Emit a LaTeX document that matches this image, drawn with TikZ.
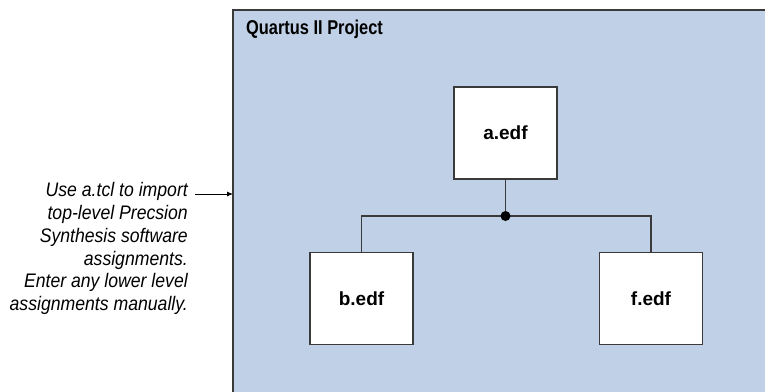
\documentclass[tikz,border=0pt]{standalone}
\usepackage{fontspec}
\usetikzlibrary{arrows.meta}
\setmainfont{Liberation Sans}
\newfontfamily\condfont[FakeStretch=0.9]{Liberation Sans}
\newfontfamily\titlefont[FakeStretch=0.82]{Liberation Sans}
\definecolor{projblue}{HTML}{C0D0E6}
\definecolor{edgegray}{HTML}{3A3A3A}
\begin{document}
\begin{tikzpicture}[x=1pt,y=-1pt,
  filebox/.style={draw=edgegray,line width=1.4pt,fill=white,minimum width=103pt,minimum height=92pt,inner sep=0pt,font=\fontsize{19}{21}\selectfont\bfseries},
  wire/.style={draw=edgegray,line width=1.3pt},
  note/.style={align=right,anchor=north east,inner sep=0pt,font=\condfont\fontsize{19.6}{22.7}\selectfont\itshape}]
\useasboundingbox (0,0) rectangle (765,391);
\path[fill=projblue,draw=edgegray,line width=1.8pt] (233,10) rectangle (775,400);
\node[anchor=north west,inner sep=0pt,font=\titlefont\fontsize{20}{22}\selectfont\bfseries] (title) at (246,19.5) {Quartus II Project};
\node[filebox] (a) at (505.5,133) {a.edf};
\node[filebox] (b) at (361.5,298.5) {b.edf};
\node[filebox] (f) at (651,298.5) {f.edf};
\coordinate (j) at (a.south |- 0,216);
\coordinate (jb) at (b.north |- 0,216);
\coordinate (jf) at (f.north |- 0,216);
\draw[wire] (a.south) -- (j);
\draw[wire] (b.north) -- (jb) -- (jf) -- (f.north);
\fill[black] (j) circle (5pt);
\node[note] (n) at (188,182.5) {Use a.tcl to import\\top-level Precsion\\Synthesis software\\assignments.\\Enter any lower level\\assignments manually.};
\coordinate (ne) at (195,194);
\coordinate (pe) at (233,194);
\draw[line width=0.9pt,-{Latex[length=6pt,width=5pt]}] (ne) -- (pe);
\end{tikzpicture}
\end{document}
